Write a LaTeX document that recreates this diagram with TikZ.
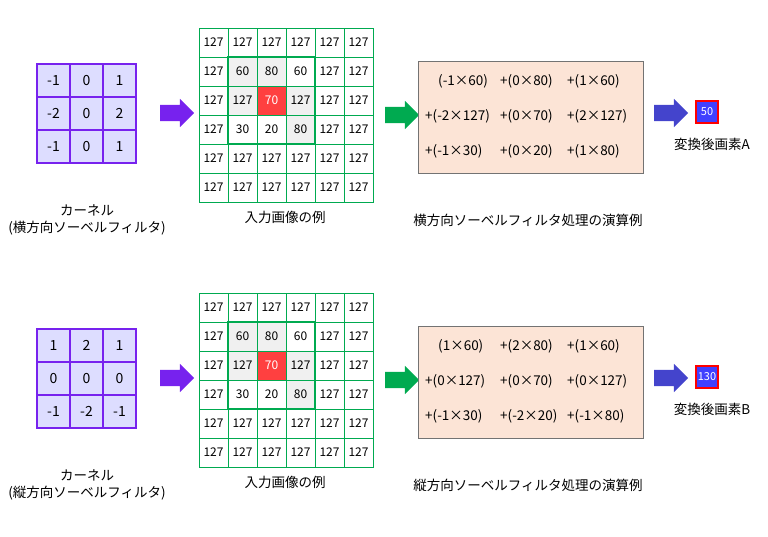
\documentclass[tikz,border=0pt]{standalone}
\usepackage{fontspec}
\setmainfont{Noto Sans CJK JP}
\usetikzlibrary{positioning,shapes.arrows}
\definecolor{kfill}{RGB}{221,221,255}
\definecolor{kline}{RGB}{119,34,238}
\definecolor{gline}{RGB}{0,170,80}
\definecolor{boxfill}{RGB}{252,228,214}
\definecolor{bluearr}{RGB}{68,68,204}
\tikzset{
	kcell/.style={draw=kline,fill=kfill,line width=1.4pt,minimum size=33,inner sep=0pt,font=\fontsize{14}{16}\selectfont},
	pcell/.style={draw=gline,minimum size=29,inner sep=0pt,font=\fontsize{12}{14}\selectfont},
	gcell/.style={pcell,fill=black!6},
	rcell/.style={pcell,fill=red!75,text=white},
	fatarrow/.style={single arrow,minimum height=34,inner xsep=0pt,inner ysep=8pt,single arrow head extend=6pt,draw=none},
	term/.style={anchor=west,inner sep=0pt,font=\fontsize{13.5}{15}\selectfont},
	caption/.style={font=\fontsize{13.5}{17}\selectfont,align=center}}
\begin{document}
\begin{tikzpicture}[x=1pt,y=-1pt]
\useasboundingbox (0,0) rectangle (768,536);
\foreach \dy/\ka/\kb/\kc/\kd/\ke/\kf/\kg/\kh/\ki/\dir/\res/\lab/\ra/\rb/\rc/\rd/\re/\rf/\rg/\rh/\ri in {
	0/-1/0/1/-2/0/2/-1/0/1/横/50/A/(-1×60)/+(0×80)/+(1×60)/+(-2×127)/+(0×70)/+(2×127)/+(-1×30)/+(0×20)/+(1×80),
	265/1/2/1/0/0/0/-1/-2/-1/縦/130/B/(1×60)/+(2×80)/+(1×60)/+(0×127)/+(0×70)/+(0×127)/+(-1×30)/+(-2×20)/+(-1×80)}{
	\begin{scope}[yshift=-\dy]
		% kernel
		\node (k11) at (53.5,80.5) [kcell] {\ka};
		\node (k12) at (86.5,80.5) [kcell] {\kb};
		\node (k13) at (119.5,80.5) [kcell] {\kc};
		\node (k21) at (53.5,113.5) [kcell] {\kd};
		\node (k22) at (86.5,113.5) [kcell] {\ke};
		\node (k23) at (119.5,113.5) [kcell] {\kf};
		\node (k31) at (53.5,146.5) [kcell] {\kg};
		\node (k32) at (86.5,146.5) [kcell] {\kh};
		\node (k33) at (119.5,146.5) [kcell] {\ki};
		\node (kcap) at (87,220) [caption] {カーネル\\(\dir 方向ソーベルフィルタ)};
		% input image, outer ring
		\foreach \i in {0,...,5}
			\foreach \j in {0,...,5}{
				\pgfmathtruncatemacro\inner{and(and(\i>0,\i<4),and(\j>0,\j<4))}
				\ifnum\inner=0
					\node (p\i\j) at (213.5+29*\j,42.5+29*\i) [pcell] {127};
				\fi}
		% window
		\node (p11) at (242.5,71.5) [gcell] {60};
		\node (p12) at (271.5,71.5) [gcell] {80};
		\node (p13) at (300.5,71.5) [pcell] {60};
		\node (p21) at (242.5,100.5) [gcell] {127};
		\node (p22) at (271.5,100.5) [rcell] {70};
		\node (p23) at (300.5,100.5) [gcell] {127};
		\node (p31) at (242.5,129.5) [pcell] {30};
		\node (p32) at (271.5,129.5) [pcell] {20};
		\node (p33) at (300.5,129.5) [gcell] {80};
		\draw [gline,line width=2.2pt] (p11.north west) rectangle (p33.south east);
		\node (pcap) at (285,217) [caption] {入力画像の例};
		% arrows
		\node (a1) at (173,113) [fatarrow,fill=kline] {};
		\node (a2) at (398,115) [fatarrow,fill=gline] {};
		% calculation
		\node (calc) at (530.5,117) [draw=black!55,fill=boxfill,minimum width=225,minimum height=112,inner sep=0pt] {};
		\node at (438,81) [term] {\ra};
		\node at (500,81) [term] {\rb};
		\node at (567,81) [term] {\rc};
		\node at (425,116) [term] {\rd};
		\node at (500,116) [term] {\re};
		\node at (567,116) [term] {\rf};
		\node at (425,151) [term] {\rg};
		\node at (500,151) [term] {\rh};
		\node at (567,151) [term] {\ri};
		\node (ccap) at (528,220) [caption] {\dir 方向ソーベルフィルタ処理の演算例};
		\node (a3) at (667,113) [fatarrow,fill=bluearr] {};
		\node (res) at (707,112) [draw=red,line width=1.6pt,fill=blue!75,text=white,minimum width=22,minimum height=22,inner sep=0pt,font=\fontsize{11}{12}\selectfont] {\res};
		\node (rcap) at (712,144) [caption] {変換後画素\lab};
	\end{scope}}
\end{tikzpicture}
\end{document}
